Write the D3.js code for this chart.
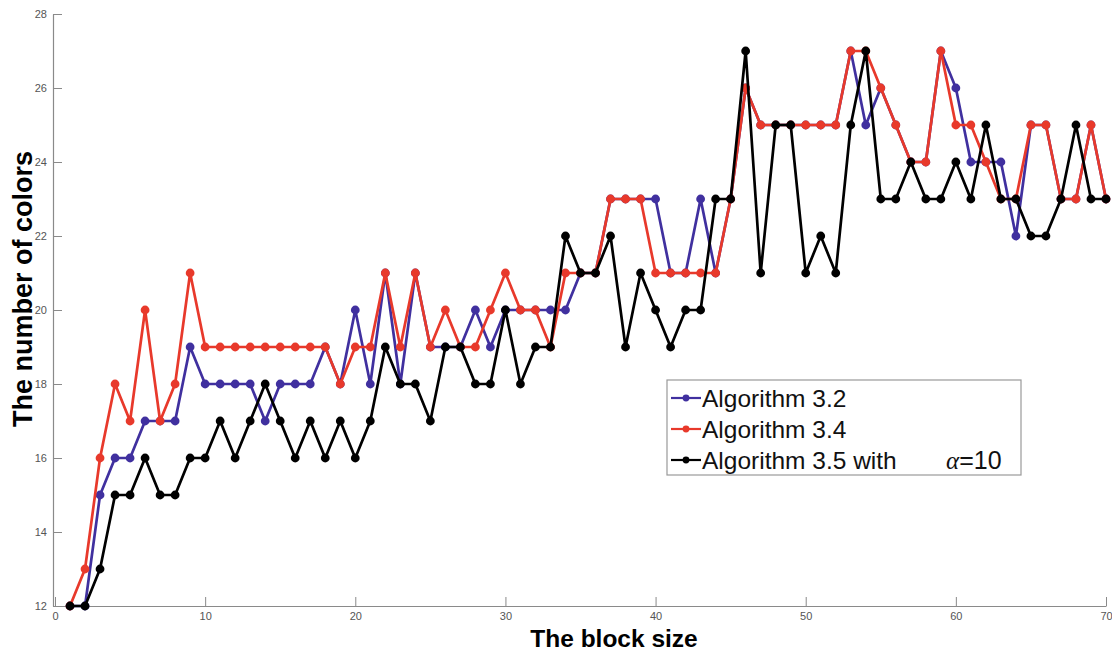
<!DOCTYPE html>
<html>
<head>
<meta charset="utf-8">
<script src="https://cdn.jsdelivr.net/npm/d3@7/dist/d3.min.js"></script>
<style>
  html, body { margin: 0; padding: 0; background: #fff; }
  svg { display: block; }
  .tick text { font-family: "Liberation Sans", Arial, sans-serif; }
</style>
</head>
<body>
<svg id="chart" width="1112" height="653"></svg>
<script>
// Block sizes 1..70
const blockSizes = [
  1, 2, 3, 4, 5, 6, 7, 8, 9, 10,
  11, 12, 13, 14, 15, 16, 17, 18, 19, 20,
  21, 22, 23, 24, 25, 26, 27, 28, 29, 30,
  31, 32, 33, 34, 35, 36, 37, 38, 39, 40,
  41, 42, 43, 44, 45, 46, 47, 48, 49, 50,
  51, 52, 53, 54, 55, 56, 57, 58, 59, 60,
  61, 62, 63, 64, 65, 66, 67, 68, 69, 70
];

// Number of colours per algorithm
const alg32 = [
  12, 12, 15, 16, 16, 17, 17, 17, 19, 18,
  18, 18, 18, 17, 18, 18, 18, 19, 18, 20,
  18, 21, 18, 21, 19, 19, 19, 20, 19, 20,
  20, 20, 20, 20, 21, 21, 23, 23, 23, 23,
  21, 21, 23, 21, 23, 26, 25, 25, 25, 25,
  25, 25, 27, 25, 26, 25, 24, 24, 27, 26,
  24, 24, 24, 22, 25, 25, 23, 23, 25, 23
];
const alg34 = [
  12, 13, 16, 18, 17, 20, 17, 18, 21, 19,
  19, 19, 19, 19, 19, 19, 19, 19, 18, 19,
  19, 21, 19, 21, 19, 20, 19, 19, 20, 21,
  20, 20, 19, 21, 21, 21, 23, 23, 23, 21,
  21, 21, 21, 21, 23, 26, 25, 25, 25, 25,
  25, 25, 27, 27, 26, 25, 24, 24, 27, 25,
  25, 24, 23, 23, 25, 25, 23, 23, 25, 23
];
const alg35 = [
  12, 12, 13, 15, 15, 16, 15, 15, 16, 16,
  17, 16, 17, 18, 17, 16, 17, 16, 17, 16,
  17, 19, 18, 18, 17, 19, 19, 18, 18, 20,
  18, 19, 19, 22, 21, 21, 22, 19, 21, 20,
  19, 20, 20, 23, 23, 27, 21, 25, 25, 21,
  22, 21, 25, 27, 23, 23, 24, 23, 23, 24,
  23, 25, 23, 23, 22, 22, 23, 25, 23, 23
];

const xTicks = [0, 10, 20, 30, 40, 50, 60, 70];
const yTicks = [12, 14, 16, 18, 20, 22, 24, 26, 28];

const seriesNames = ["Algorithm 3.2", "Algorithm 3.4", "Algorithm 3.5 with"];
const seriesColors = ["#40309f", "#e8392b", "#000000"];
const seriesValues = [alg32, alg34, alg35];

const svg = d3.select("#chart");
const margin = { left: 55, right: 6, top: 14, bottom: 47 };
const W = 1112, H = 653;

const x = d3.scaleLinear().domain([0, 70]).range([margin.left, W - margin.right]);
const y = d3.scaleLinear().domain([12, 28]).range([H - margin.bottom, margin.top]);

const axisColor = "#8a8a8a";
const tickTextColor = "#555";

// X axis (ticks pointing into the plot)
const gx = svg.append("g")
  .attr("transform", `translate(0,${y(12)})`)
  .call(d3.axisBottom(x).tickValues(xTicks).tickSizeInner(-9).tickSizeOuter(0).tickPadding(5));
gx.select(".domain").attr("stroke", axisColor).attr("stroke-width", 1.2);
gx.selectAll(".tick line").attr("stroke", axisColor);
gx.selectAll(".tick text").attr("fill", tickTextColor).attr("font-size", 11).attr("dy", "0.85em");

// Y axis
const gy = svg.append("g")
  .attr("transform", `translate(${x(0) - 2},0)`)
  .call(d3.axisLeft(y).tickValues(yTicks).tickSizeInner(-9).tickSizeOuter(0).tickPadding(6));
gy.select(".domain").attr("stroke", axisColor).attr("stroke-width", 1.2);
gy.selectAll(".tick line").attr("stroke", axisColor);
gy.selectAll(".tick text").attr("fill", tickTextColor).attr("font-size", 11);

// Axis titles
svg.append("text")
  .attr("x", 614).attr("y", 646.5)
  .attr("text-anchor", "middle")
  .attr("font-family", "Liberation Sans, Arial, sans-serif")
  .attr("font-weight", "bold")
  .attr("font-size", 24.5)
  .text("The block size");

svg.append("text")
  .attr("transform", "translate(32,289) rotate(-90)")
  .attr("text-anchor", "middle")
  .attr("font-family", "Liberation Sans, Arial, sans-serif")
  .attr("font-weight", "bold")
  .attr("font-size", 27)
  .text("The number of colors");

// Series lines and markers
const line = d3.line()
  .x((d, i) => x(blockSizes[i]))
  .y(d => y(d));

seriesValues.forEach((vals, k) => {
  const g = svg.append("g");
  g.append("path")
    .datum(vals)
    .attr("fill", "none")
    .attr("stroke", seriesColors[k])
    .attr("stroke-width", 2.7)
    .attr("stroke-linejoin", "round")
    .attr("d", line);
  g.selectAll("circle")
    .data(vals)
    .join("circle")
    .attr("cx", (d, i) => x(blockSizes[i]))
    .attr("cy", d => y(d))
    .attr("r", 4.4)
    .attr("fill", seriesColors[k]);
});

// Legend
const legend = svg.append("g").attr("transform", "translate(667,380)");
legend.append("rect")
  .attr("width", 354).attr("height", 95)
  .attr("fill", "#fff")
  .attr("stroke", "#999").attr("stroke-width", 1.2);

seriesNames.forEach((name, k) => {
  const cy = 18 + k * 31;
  legend.append("line")
    .attr("x1", 4).attr("x2", 34)
    .attr("y1", cy).attr("y2", cy)
    .attr("stroke", seriesColors[k]).attr("stroke-width", 2.2);
  legend.append("circle")
    .attr("cx", 19).attr("cy", cy).attr("r", 3.4)
    .attr("fill", seriesColors[k]);
  legend.append("text")
    .attr("x", 35).attr("y", cy + 8.5)
    .attr("font-family", "Liberation Sans, Arial, sans-serif")
    .attr("font-size", 24.5)
    .attr("fill", "#111")
    .text(name);
});

// Parameter annotation on the third legend entry
const alphaText = legend.append("text")
  .attr("x", 279).attr("y", 18 + 2 * 31 + 8.5)
  .attr("font-size", 25)
  .attr("fill", "#111");
alphaText.append("tspan")
  .attr("font-family", "Liberation Serif, DejaVu Serif, serif")
  .attr("font-style", "italic")
  .text("α");
alphaText.append("tspan")
  .attr("font-family", "Liberation Sans, Arial, sans-serif")
  .text("=10");
</script>
</body>
</html>
